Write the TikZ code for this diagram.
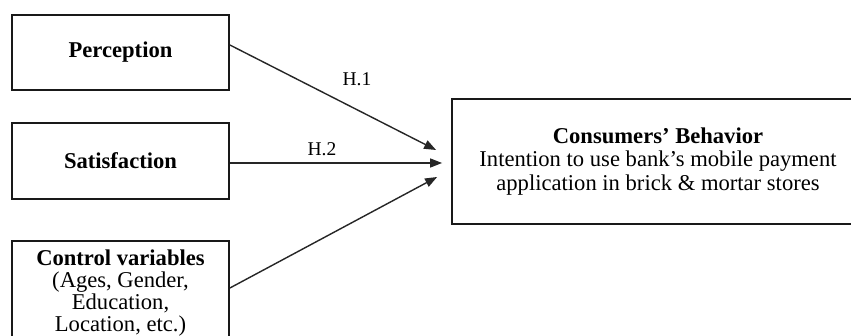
\documentclass[tikz,border=0pt]{standalone}
\usepackage{fontspec}
\setmainfont{Liberation Serif}
\usetikzlibrary{arrows.meta}
\begin{document}
\begin{tikzpicture}[x=1pt,y=-1pt,
  box/.style={draw=black!90, line width=1.8pt, fill=white, inner sep=0pt,
    align=center, font=\fontsize{22.6}{22}\selectfont},
  link/.style={draw=black!85, line width=1.4pt, -{Triangle[length=12pt,width=9pt]}},
  hlabel/.style={font=\fontsize{19.5}{20}\selectfont, inner sep=0pt}]
  \useasboundingbox (0,0) rectangle (851,336);
  \clip (0,0) rectangle (851,336);
  \fill[white] (0,0) rectangle (851,336);

  % independent variables
  \node[box, minimum width=217pt, minimum height=75pt] (per) at (120.5,52.5)
    {\textbf{Perception}};
  \node[box, minimum width=217pt, minimum height=104pt] (ctl) at (120.5,293)
    {\textbf{Control variables}\\(Ages, Gender,\\Education,\\Location, etc.)};
  \node[box, minimum width=217pt, minimum height=76pt] (sat) at (120.5,161)
    {\textbf{Satisfaction}};

  % dependent variable
  \node[box, minimum width=412pt, minimum height=125pt, font=\fontsize{22.6}{23.5}\selectfont] (con) at (658,161.5)
    {\textbf{Consumers’ Behavior}\\Intention to use bank’s mobile payment\\application in brick \& mortar stores};

  % arrow end points in front of the target box
  \coordinate (t1) at ([xshift=-15pt,yshift=11.5pt]con.west);
  \coordinate (t2) at ([xshift=-9pt,yshift=-1.5pt]con.west);
  \coordinate (t3) at ([xshift=-14pt,yshift=-15.5pt]con.west);

  \draw[link] ([yshift=7.5pt]per.east) -- (t1);
  \draw[link] ([yshift=-2pt]sat.east) -- (t2);
  \draw[link] ([yshift=5pt]ctl.east) -- (t3);

  \node[hlabel] (h1) at (357,79) {H.1};
  \node[hlabel] (h2) at (322,149) {H.2};
\end{tikzpicture}
\end{document}
